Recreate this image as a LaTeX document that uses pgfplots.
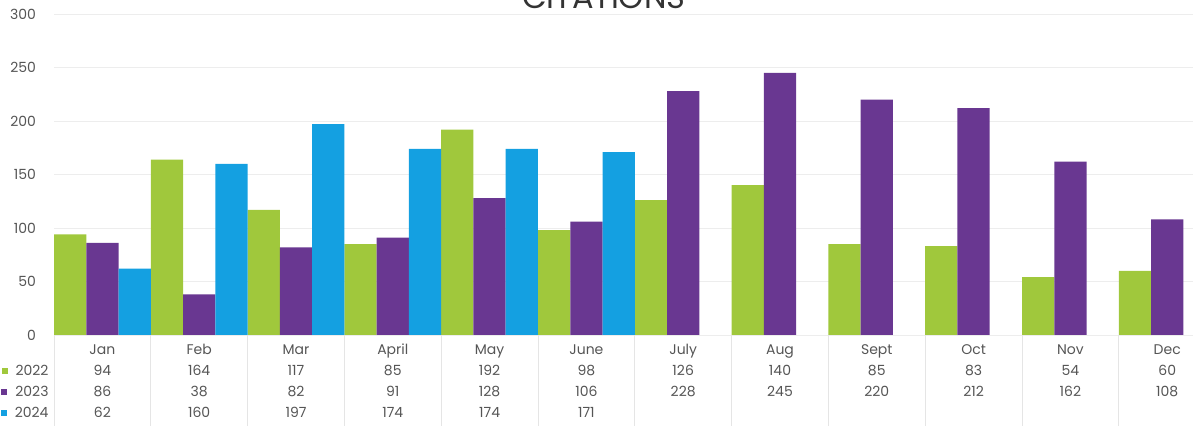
\documentclass[border=0pt]{standalone}
\usepackage{pgfplots}
\pgfplotsset{compat=1.18}
\usepackage{fontspec}
\setmainfont{Poppins}
\definecolor{g22}{RGB}{160,200,60}
\definecolor{p23}{RGB}{105,55,145}
\definecolor{b24}{RGB}{20,160,225}
\definecolor{txt}{RGB}{85,85,85}
\newcommand{\hs}{\vphantom{Jlbdy}}
\begin{document}
\begin{tikzpicture}
\path[use as bounding box, clip] (-27pt,-45.5pt) rectangle (569.5pt,167.5pt);
\begin{axis}[
  at={(0pt,0pt)}, anchor=south west,
  scale only axis, width=580.8pt, height=160.5pt,
  ybar=0pt, bar width=16.13pt,
  xmin=-0.5, xmax=11.5, ymin=0, ymax=300,
  enlargelimits=false,
  ytick={0,50,...,300},
  xtick={0,...,11},
  xticklabels={{\hs Jan\\94\\86\\62},{\hs Feb\\164\\38\\160},{\hs Mar\\117\\82\\197},{\hs April\\85\\91\\174},{\hs May\\192\\128\\174},{\hs June\\98\\106\\171},{\hs July\\126\\228},{\hs Aug\\140\\245},{\hs Sept\\85\\220},{\hs Oct\\83\\212},{\hs Nov\\54\\162},{\hs Dec\\60\\108}},
  minor xtick={-0.5,0.5,...,11.5},
  xtick pos=bottom, ytick pos=left,
  major tick length=0pt,
  minor tick length=45.5pt,
  tick align=outside,
  minor tick style={draw=black!10, line width=0.4pt},
  ymajorgrids, grid style={draw=black!7, line width=0.4pt},
  axis line style={draw=none},
  xticklabel style={font=\fontsize{7}{10.5}\selectfont, align=center, text=txt, anchor=north, yshift=-1pt},
  yticklabel style={font=\fontsize{7}{8}\selectfont, text=txt, xshift=-5.5pt},
  /pgf/number format/assume math mode=true,
  clip=false,
]
\addplot[fill=g22, draw=none] coordinates {(0,94) (1,164) (2,117) (3,85) (4,192) (5,98) (6,126) (7,140) (8,85) (9,83) (10,54) (11,60)};
\addplot[fill=p23, draw=none] coordinates {(0,86) (1,38) (2,82) (3,91) (4,128) (5,106) (6,228) (7,245) (8,220) (9,212) (10,162) (11,108)};
\addplot[fill=b24, draw=none] coordinates {(0,62) (1,160) (2,197) (3,174) (4,174) (5,171)};
\node[anchor=north east, align=right, font=\fontsize{7}{10.5}\selectfont, text=txt, yshift=-1pt, xshift=0.8pt] at (axis cs:-0.5,0)
  {\hs\\\textcolor{g22}{\rule[0.8pt]{3pt}{3pt}}\hspace{4pt}2022\\\textcolor{p23}{\rule[0.8pt]{3pt}{3pt}}\hspace{4pt}2023\\\textcolor{b24}{\rule[0.8pt]{3pt}{3pt}}\hspace{4pt}2024};
\node[anchor=base, font=\fontsize{16}{16}\selectfont, text=black!80, yshift=2.5pt] at (axis cs:5.18,300) {CITATIONS};
\end{axis}
\end{tikzpicture}
\end{document}
